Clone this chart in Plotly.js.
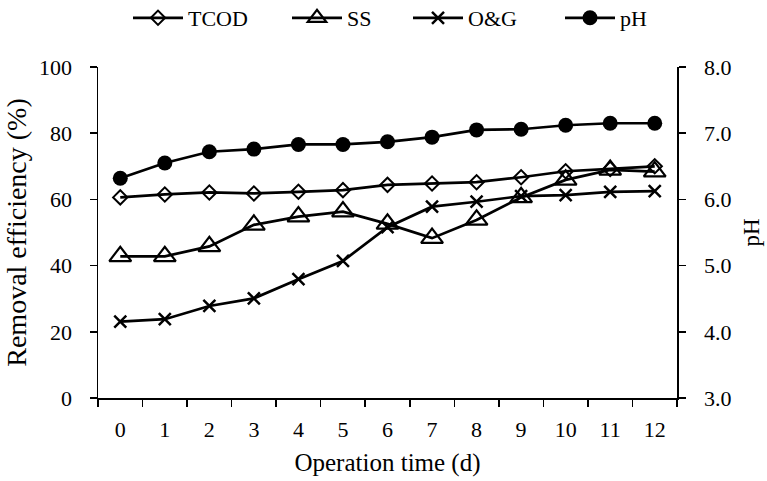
<!DOCTYPE html>
<html>
<head>
<meta charset="utf-8">
<script src="https://cdn.plot.ly/plotly-3.0.1.min.js"></script>
<style>html,body{margin:0;padding:0;background:#fff;}#chart{width:767px;height:481px;}</style>
</head>
<body>
<div id="chart"></div>
<script>
var days = ["0","1","2","3","4","5","6","7","8","9","10","11","12"];
var tcod = [60.6, 61.5, 62.1, 61.8, 62.3, 62.8, 64.4, 64.8, 65.2, 66.7, 68.5, 69.2, 70.0];
var ss   = [42.8, 42.8, 45.8, 52.3, 54.8, 56.3, 52.6, 48.3, 53.8, 60.6, 65.9, 68.9, 68.4];
var og   = [23.1, 23.8, 27.8, 30.1, 35.9, 41.4, 51.6, 57.8, 59.3, 61.0, 61.3, 62.3, 62.5];
var ph   = [6.32, 6.55, 6.72, 6.76, 6.83, 6.83, 6.87, 6.94, 7.05, 7.06, 7.12, 7.15, 7.15];
var leftTicks = [0, 20, 40, 60, 80, 100];
var rightTicks = [3, 4, 5, 6, 7, 8];
var rightTickText = ["3.0", "4.0", "5.0", "6.0", "7.0", "8.0"];

var fontFam = "Liberation Serif, Times New Roman, serif";
var lineStyle = {color: "#000", width: 2.7};

var traces = [
  {x: days, y: tcod, name: "TCOD", type: "scatter", mode: "lines+markers", legend: "legend",
   line: lineStyle, marker: {symbol: "diamond-open", size: 11, color: "#000", line: {width: 2, color: "#000"}}},
  {x: days, y: ss, name: "SS", type: "scatter", mode: "lines+markers", legend: "legend2",
   line: lineStyle, marker: {symbol: "triangle-up-open", size: 19, color: "#000", line: {width: 2.2, color: "#000"}}},
  {x: days, y: og, name: "O&G", type: "scatter", mode: "lines+markers", legend: "legend3",
   line: lineStyle, marker: {symbol: "x-thin", size: 12, color: "#000", line: {width: 2.5, color: "#000"}}},
  {x: days, y: ph, name: "pH", type: "scatter", mode: "lines+markers", yaxis: "y2", legend: "legend4",
   line: lineStyle, marker: {symbol: "circle", size: 15, color: "#000"}}
];

function leg(px) {
  return {orientation: "h", x: (px - 98) / 579, xanchor: "left", xref: "paper",
          y: 1 - 18 / 481, yanchor: "middle", yref: "container",
          font: {family: fontFam, size: 22, color: "#000"}, itemwidth: 50,
          bgcolor: "rgba(0,0,0,0)", borderwidth: 0};
}

var layout = {
  width: 767, height: 481,
  margin: {l: 98, r: 90, t: 67, b: 83},
  paper_bgcolor: "#fff", plot_bgcolor: "#fff",
  font: {family: fontFam, size: 22, color: "#000"},
  showlegend: true,
  legend: leg(128), legend2: leg(287), legend3: leg(408), legend4: leg(560),
  xaxis: {
    type: "category", range: [-0.5, 12.5],
    tickson: "boundaries", ticks: "outside", ticklen: 7, tickwidth: 1.5, tickcolor: "#000",
    ticklabelstandoff: 11,
    showline: true, linecolor: "#000", linewidth: 1.5, showgrid: false, zeroline: false,
    tickfont: {family: fontFam, size: 22, color: "#000"},
    title: {text: "Operation time (d)", font: {family: fontFam, size: 25, color: "#000"}, standoff: 12}
  },
  yaxis: {
    range: [0, 100], tickvals: leftTicks, ticks: "outside", ticklen: 7, tickwidth: 1.5, tickcolor: "#000",
    ticklabelstandoff: 13,
    showline: true, linecolor: "#000", linewidth: 1.5, showgrid: false, zeroline: false,
    tickfont: {family: fontFam, size: 22, color: "#000"},
    title: {text: "Removal efficiency (%)", font: {family: fontFam, size: 28, color: "#000"}, standoff: 4}
  },
  yaxis2: {
    overlaying: "y", side: "right", range: [3, 8], tickvals: rightTicks, ticktext: rightTickText,
    ticks: "outside", ticklen: 7, tickwidth: 1.5, tickcolor: "#000",
    ticklabelstandoff: 14,
    showline: true, linecolor: "#000", linewidth: 1.5, showgrid: false, zeroline: false,
    tickfont: {family: fontFam, size: 22, color: "#000"},
    title: {text: "pH", font: {family: fontFam, size: 23, color: "#000"}, standoff: 12}
  }
};

Plotly.newPlot("chart", traces, layout, {displayModeBar: false, staticPlot: true});
</script>
</body>
</html>
